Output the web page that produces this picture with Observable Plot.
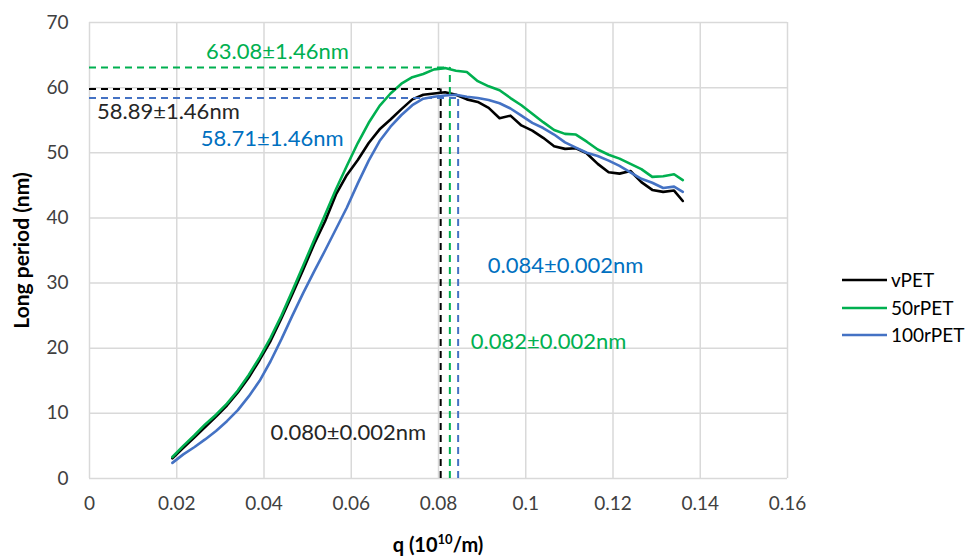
<!DOCTYPE html>
<html><head><meta charset="utf-8">
<script src="https://cdn.jsdelivr.net/npm/d3@7"></script>
<script src="https://cdn.jsdelivr.net/npm/@observablehq/plot@0.6"></script>
<style>body{margin:0;background:#fff;font-family:Lato,sans-serif}</style>
</head><body><div id="chart"></div>
<script>
const q = [0.019,0.0215,0.024,0.0265,0.029,0.0315,0.034,0.0365,0.039,0.0415,0.044,0.0465,0.049,0.0515,0.054,0.0565,0.059,0.0615,0.064,0.0665,0.069,0.0715,0.074,0.0765,0.079,0.0815,0.084,0.0865,0.089,0.0915,0.094,0.0965,0.099,0.1015,0.104,0.1065,0.109,0.1115,0.114,0.1165,0.119,0.1215,0.124,0.1265,0.129,0.1315,0.134,0.136];
const vPET = [3.1,4.7,6.3,7.9,9.5,11.2,13.2,15.5,18.2,21.1,24.6,28.3,32.1,36.0,39.5,43.6,46.6,48.9,51.5,53.6,55.1,56.7,58.2,58.9,59.1,59.3,58.9,58.2,57.8,56.9,55.3,55.7,54.2,53.4,52.3,51.0,50.6,50.7,49.9,48.3,47.0,46.8,47.2,45.5,44.3,44.0,44.2,42.6];
const r50PET = [3.3,5.0,6.6,8.3,9.8,11.5,13.5,15.9,18.6,21.6,25.0,28.8,32.7,36.6,40.5,44.4,48.0,51.5,54.6,57.2,59.1,60.6,61.6,62.1,62.8,63.0,62.6,62.4,61.0,60.2,59.6,58.4,57.3,56.0,54.7,53.5,52.9,52.8,51.7,50.5,49.7,49.1,48.3,47.5,46.3,46.4,46.7,45.8];
const r100PET = [2.4,3.7,4.8,6.0,7.3,8.8,10.5,12.6,15.0,18.0,21.4,25.0,28.5,31.8,35.0,38.3,41.6,45.3,48.8,51.8,54.0,55.8,57.3,58.3,58.6,58.8,58.9,58.6,58.4,58.1,57.6,56.8,55.7,54.6,53.8,52.8,51.6,50.8,50.0,49.5,48.8,48.0,47.0,46.0,45.4,44.6,44.8,44.0];
const seriesNames = ["vPET","50rPET","100rPET"];
const seriesColors = ["#000000","#00b050","#4472c4"];
const xTicks = [0,0.02,0.04,0.06,0.08,0.1,0.12,0.14,0.16];
const yTicks = [0,10,20,30,40,50,60,70];
const peakQ = [0.0805,0.0826,0.0845];
const peakL = [59.8,63.1,58.4];
const labelTexts = ["58.89±1.46nm","63.08±1.46nm","58.71±1.46nm","0.080±0.002nm","0.082±0.002nm","0.084±0.002nm"];
const labelQ = [0.0017,0.0267,0.0255,0.0415,0.0874,0.0913];
const labelL = [56.3,65.5,52.1,7.0,21.0,32.7];
const labelColors = ["#262626","#00b050","#0070c0","#262626","#00b050","#0070c0"];

const series = [vPET, r50PET, r100PET];
const data = [];
series.forEach((arr, s) => arr.forEach((v, i) => data.push({q: q[i], L: v, s: seriesNames[s]})));
const peaks = seriesNames.map((s, i) => ({s, q: peakQ[i], L: peakL[i]}));
const labels = labelTexts.map((t, i) => ({t, q: labelQ[i], L: labelL[i], c: labelColors[i]}));
const fmt = d => String(+d.toFixed(2));

const plot = Plot.plot({
  width: 970, height: 556,
  marginLeft: 89, marginRight: 183, marginTop: 22, marginBottom: 78,
  style: {fontFamily: "Lato, sans-serif", fontSize: "19px", color: "#404040", background: "#fff"},
  x: {domain: [0, 0.16]},
  y: {domain: [0, 70]},
  color: {domain: seriesNames, range: seriesColors},
  marks: [
    Plot.gridX(xTicks, {stroke: "#d9d9d9", strokeOpacity: 1, strokeWidth: 1.5}),
    Plot.gridY(yTicks, {stroke: "#d9d9d9", strokeOpacity: 1, strokeWidth: 1.5}),
    Plot.axisX(xTicks, {tickSize: 0, tickPadding: 18, label: null, tickFormat: fmt, fill: "#404040"}),
    Plot.axisY(yTicks, {tickSize: 0, tickPadding: 21, label: null, fill: "#404040"}),
    Plot.line(data, {x: "q", y: "L", z: "s", stroke: "s", strokeWidth: 2.6}),
    Plot.ruleY(peaks, {y: "L", x1: 0, x2: "q", stroke: "s", strokeWidth: 2, strokeDasharray: "7,5"}),
    Plot.ruleX(peaks, {x: "q", y1: 0, y2: "L", stroke: "s", strokeWidth: 2, strokeDasharray: "7,5"}),
    ...labels.map(a => Plot.text([a], {x: "q", y: "L", text: "t", fill: a.c, textAnchor: "start", fontSize: 22})),
    Plot.text(["Long period (nm)"], {frameAnchor: "left", textAnchor: "middle", rotate: -90, dx: -67, fontWeight: "bold", fontSize: 21, fill: "#000"})
  ]
});
document.getElementById("chart").appendChild(plot);

const svg = d3.select(plot);
// x axis title with superscript
const xt = svg.append("text")
  .attr("x", 438).attr("y", 552)
  .attr("text-anchor", "middle")
  .attr("font-weight", "bold").attr("font-size", 20).attr("fill", "#000");
xt.append("tspan").text("q (10");
xt.append("tspan").text("10").attr("font-size", 13).attr("dy", -8);
xt.append("tspan").text("/m)").attr("dy", 8);

// legend
const legY = [280, 308, 335];
seriesNames.forEach((s, i) => {
  const g = svg.append("g");
  g.append("line").attr("x1", 842).attr("x2", 887).attr("y1", legY[i]).attr("y2", legY[i])
    .attr("stroke", seriesColors[i]).attr("stroke-width", 2.6);
  g.append("text").attr("x", 891).attr("y", legY[i]).attr("dy", "0.35em")
    .attr("text-anchor", "start")
    .attr("font-size", 19).attr("fill", "#000").text(s);
});
</script></body></html>
